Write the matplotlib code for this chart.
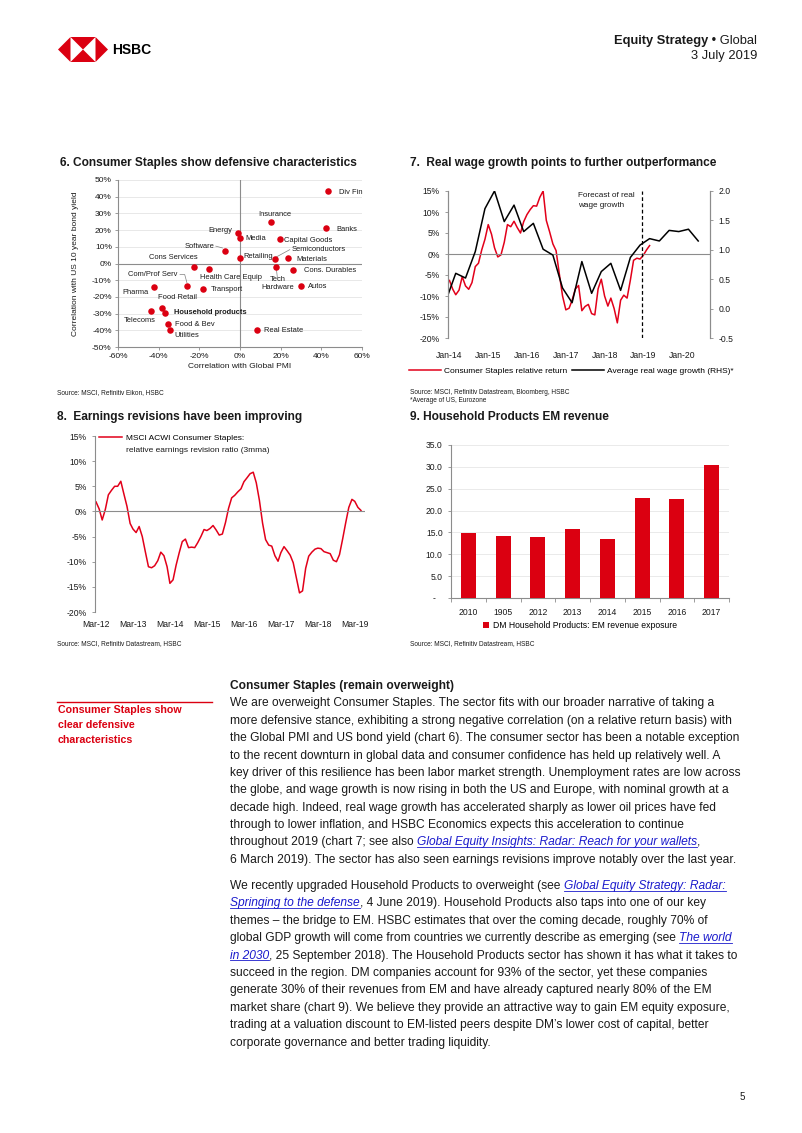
import numpy as np
import pandas as pd
import matplotlib
matplotlib.use('Agg')
import matplotlib.pyplot as plt
import matplotlib.dates as mdates
from matplotlib.patches import Polygon
from matplotlib.lines import Line2D

plt.rcParams['font.family'] = ['Liberation Sans', 'DejaVu Sans']

RED = '#DB0011'
LINE_RED = '#E2001A'
AXGREY = '#8c8c8c'
TXT = '#1a1a1a'
BLUE = '#1a1acc'

# ---- chart 6: correlation scatter ----
sectors = ['Div Fin', 'Insurance', 'Banks', 'Energy', 'Media', 'Capital Goods',
           'Software', 'Retailing', 'Semiconductors', 'Materials', 'Cons Services',
           'Health Care Equip', 'Tech Hardware', 'Cons. Durables', 'Com/Prof Serv',
           'Pharma', 'Transport', 'Autos', 'Food Retail', 'Telecoms',
           'Household products', 'Food & Bev', 'Utilities', 'Real Estate']
pmi_corr = [43.2, 15.0, 42.1, -1.2, 0.2, 19.6, -7.6, 0.0, 17.4, 23.5, -22.5,
            -15.3, 17.8, 26.3, -26.1, -42.1, -18.1, 30.1, -38.3, -43.7,
            -37.0, -35.5, -34.2, 8.4]
yield_corr = [43.4, 25.0, 21.0, 18.0, 15.4, 14.4, 7.2, 3.0, 2.4, 3.0, -1.8,
              -3.0, -2.0, -4.0, -13.6, -14.0, -15.0, -13.6, -26.6, -28.2,
              -29.6, -36.4, -39.6, -39.6]

# ---- chart 7: staples relative return vs real wage growth ----
staples_start = '2014-01-01'
staples_rel = [-6.3, -8.4, -9.7, -8.6, -5.4, -7.6, -8.4, -6.8, -3.0, -2.2,
               1.0, 3.5, 7.0, 4.7, 1.5, -0.7, -0.2, 2.8, 7.0, 6.5,
               7.8, 6.3, 5.0, 7.7, 9.4, 10.6, 11.5, 11.4, 13.5, 15.0,
               8.0, 5.3, 2.4, 0.8, -4.8, -10.0, -13.3, -12.9, -11.0, -8.3,
               -7.5, -13.5, -12.5, -12.0, -14.2, -14.5, -8.3, -6.0, -10.0, -12.4,
               -10.5, -13.0, -16.4, -11.0, -9.8, -10.5, -6.2, -1.5, -1.0, -1.2,
               -0.3, 1.0, 2.0]
wage_start = '2013-12-01'
wage_growth = [0.15, 0.60, 0.52, 0.97, 1.70, 2.00, 1.48, 1.76, 1.31, 1.45,
               1.01, 0.91, 0.35, 0.10, 0.80, 0.26, 0.63, 0.77, 0.31, 0.87,
               1.08, 1.19, 1.15, 1.33, 1.31, 1.35, 1.15]

# ---- chart 8: earnings revision ratio ----
rev_start = '2012-03-01'
rev_ratio = [1.9, 0.5, -1.7, 0.4, 3.3, 4.2, 5.0, 5.0, 6.0, 3.5,
             1.0, -2.4, -3.5, -4.2, -3.0, -5.0, -8.0, -11.0, -11.2, -10.8,
             -9.8, -8.1, -8.8, -11.0, -14.3, -13.6, -10.7, -8.2, -6.0, -5.5,
             -7.2, -7.1, -7.2, -6.2, -5.0, -3.6, -3.8, -3.4, -2.8, -3.7,
             -4.7, -4.5, -2.2, 0.6, 2.7, 3.2, 3.9, 4.5, 5.9, 6.7,
             7.5, 7.8, 5.7, 2.2, -2.3, -5.6, -6.7, -6.9, -8.8, -9.9,
             -8.2, -7.0, -7.8, -8.7, -10.2, -13.2, -16.2, -15.8, -11.3, -8.9,
             -8.1, -7.5, -7.3, -7.4, -8.0, -8.2, -8.4, -9.7, -10.0, -8.6,
             -5.5, -2.3, 0.8, 2.4, 2.0, 0.8, 0.2]

# ---- chart 9: EM revenue exposure ----
years = ['2010', '1905', '2012', '2013', '2014', '2015', '2016', '2017']
em_exposure = [14.8, 14.1, 13.9, 15.8, 13.5, 22.8, 22.6, 30.4]

staples_dates = pd.date_range(staples_start, periods=len(staples_rel), freq='MS')
wage_dates = pd.date_range(wage_start, periods=len(wage_growth), freq='3MS')
rev_dates = pd.date_range(rev_start, periods=len(rev_ratio), freq='MS')

W, H = 802.0, 1133.0
fig = plt.figure(figsize=(8.02, 11.33), dpi=100)
renderer = fig.canvas.get_renderer()


def px_axes(left, top, right, bottom):
    return fig.add_axes([left / W, 1 - bottom / H, (right - left) / W, (bottom - top) / H])


def ftext(x, y, s, **kw):
    kw.setdefault('color', TXT)
    return fig.text(x / W, 1 - y / H, s, **kw)


def style_ticks(ax, size=5.8):
    ax.tick_params(labelsize=size, colors=AXGREY, labelcolor=TXT, length=2.5, width=0.6)


# ---------------- header ----------------
logo = px_axes(58, 37, 108, 62)
logo.set_xlim(0, 2)
logo.set_ylim(0, 1)
logo.axis('off')
for pts in ([(0, .5), (.5, 1), (.5, 0)], [(2, .5), (1.5, 1), (1.5, 0)],
            [(.5, 1), (1.5, 1), (1, .5)], [(.5, 0), (1.5, 0), (1, .5)]):
    logo.add_patch(Polygon(pts, closed=True, color=RED, lw=0))
ftext(112, 50, 'HSBC', fontsize=10, fontweight='bold', va='center', color='black')

g = ftext(757, 41, ' \u2022 Global', fontsize=9.3, ha='right', va='center')
gw = g.get_window_extent(renderer).width
ftext(757 - gw, 41, 'Equity Strategy', fontsize=9.3, fontweight='bold', ha='right', va='center')
ftext(757, 56, '3 July 2019', fontsize=9.3, ha='right', va='center')

# ---------------- chart titles / sources ----------------
ftext(60, 163, '6. Consumer Staples show defensive characteristics', fontsize=8.6, fontweight='bold', va='center')
ftext(410, 163, '7.  Real wage growth points to further outperformance', fontsize=8.6, fontweight='bold', va='center')
ftext(57, 417, '8.  Earnings revisions have been improving', fontsize=8.6, fontweight='bold', va='center')
ftext(410, 417, '9. Household Products EM revenue', fontsize=8.6, fontweight='bold', va='center')

ftext(57, 393, 'Source: MSCI, Refinitiv Eikon, HSBC', fontsize=4.7, va='center')
ftext(410, 393, 'Source: MSCI, Refinitiv Datastream, Bloomberg, HSBC', fontsize=4.7, va='center')
ftext(410, 401, '*Average of US, Eurozone', fontsize=4.7, va='center')
ftext(57, 644, 'Source: MSCI, Refinitiv Datastream, HSBC', fontsize=4.7, va='center')
ftext(410, 644, 'Source: MSCI, Refinitiv Datastream, HSBC', fontsize=4.7, va='center')

# ---------------- chart 6 ----------------
ax6 = px_axes(118, 180, 362, 347)
ax6.scatter(pmi_corr, yield_corr, s=22, color=RED, linewidths=0, zorder=3)
ax6.set_xlim(-60, 60)
ax6.set_ylim(-50, 50)
ax6.set_xticks(range(-60, 61, 20))
ax6.set_yticks(range(-50, 51, 10))
ax6.xaxis.set_major_formatter(lambda v, p: f'{v:.0f}%')
ax6.yaxis.set_major_formatter(lambda v, p: f'{v:.0f}%')
ax6.grid(axis='y', color='#e4e4e4', lw=0.6)
ax6.axhline(0, color=AXGREY, lw=0.8)
ax6.axvline(0, color=AXGREY, lw=0.8)
for s in ['top', 'right']:
    ax6.spines[s].set_visible(False)
for s in ['left', 'bottom']:
    ax6.spines[s].set_color(AXGREY)
    ax6.spines[s].set_linewidth(0.8)
style_ticks(ax6, 6.0)
ax6.tick_params(pad=2)
ax6.set_xlabel('Correlation with Global PMI', fontsize=6.0, color=TXT, labelpad=2)
ax6.set_ylabel('Correlation with US 10 year bond yield', fontsize=6.0, color=TXT)
ax6.yaxis.set_label_coords(-0.16, 0.5)

# label placement (text position, alignment) for each sector
label_pos = {
    'Div Fin': (48.5, 42.4, 'left'), 'Insurance': (17.0, 29.6, 'center'),
    'Banks': (47.3, 20.6, 'left'), 'Energy': (-3.9, 20.0, 'right'),
    'Media': (2.5, 14.8, 'left'), 'Capital Goods': (21.5, 14.0, 'left'),
    'Software': (-12.7, 10.4, 'right'), 'Retailing': (1.6, 4.2, 'left'),
    'Semiconductors': (25.6, 8.6, 'left'), 'Materials': (27.6, 2.6, 'left'),
    'Cons Services': (-32.7, 3.8, 'center'), 'Health Care Equip': (-4.4, -8.2, 'center'),
    'Tech Hardware': (18.6, -12.0, 'center'), 'Cons. Durables': (31.7, -4.4, 'left'),
    'Com/Prof Serv': (-43.0, -6.6, 'center'), 'Pharma': (-51.6, -17.2, 'center'),
    'Transport': (-14.3, -15.6, 'left'), 'Autos': (33.4, -14.0, 'left'),
    'Food Retail': (-30.6, -20.6, 'center'), 'Telecoms': (-49.5, -34.0, 'center'),
    'Household products': (-32.7, -29.2, 'left'), 'Food & Bev': (-32.1, -36.8, 'left'),
    'Utilities': (-32.4, -43.4, 'left'), 'Real Estate': (12.0, -40.0, 'left'),
}
for name in sectors:
    tx, ty, ha = label_pos[name]
    txt = 'Tech\nHardware' if name == 'Tech Hardware' else name
    ax6.text(tx, ty, txt, fontsize=5.4, ha=ha, va='center', color=TXT,
             fontweight='bold' if name == 'Household products' else 'normal',
             linespacing=1.1)
# leader lines
for xs, ys in [([-29.5, -27.2, -26.1], [-6.6, -6.6, -11.5]),
               ([-11.9, -8.6], [10.4, 9.3]),
               ([18.0, 24.5], [4.0, 8.3]),
               ([17.9, 18.4], [-3.5, -8.6])]:
    ax6.plot(xs, ys, color='#7f7f7f', lw=0.5)

# ---------------- chart 7 ----------------
ax7 = px_axes(448, 191, 710, 338)
ax7r = ax7.twinx()
l1, = ax7.plot(staples_dates, staples_rel, color=LINE_RED, lw=1.1)
l2, = ax7r.plot(wage_dates, wage_growth, color='black', lw=1.1)
ax7.set_ylim(-20, 15)
ax7r.set_ylim(-0.5, 2.0)
ax7.set_xlim(pd.Timestamp('2013-12-18'), pd.Timestamp('2020-09-20'))
ax7.set_yticks(range(-20, 16, 5))
ax7.yaxis.set_major_formatter(lambda v, p: f'{v:.0f}%')
ax7r.set_yticks(np.arange(-0.5, 2.01, 0.5))
ax7r.yaxis.set_major_formatter(lambda v, p: f'{v:.1f}')
ax7.xaxis.set_major_locator(mdates.YearLocator(month=1))
ax7.xaxis.set_major_formatter(mdates.DateFormatter('%b-%y'))
ax7.axhline(0, color=AXGREY, lw=0.8)
ax7.axvline(pd.Timestamp('2018-12-15'), color='black', lw=0.9, ls=(0, (3, 2)))
for a in (ax7, ax7r):
    a.spines['top'].set_visible(False)
    a.spines['bottom'].set_visible(False)
    a.spines['left'].set_color(AXGREY)
    a.spines['right'].set_color(AXGREY)
    style_ticks(a, 6.2)
ax7.tick_params(axis='x', length=0, pad=9)
ax7.text(0.496, 0.99, 'Forecast of real\nwage growth', transform=ax7.transAxes,
         fontsize=5.9, va='top', ha='left', color=TXT, linespacing=1.6)
ax7.legend([l1, l2], ['Consumer Staples relative return', 'Average real wage growth (RHS)*'],
           loc='center', bbox_to_anchor=(0.47, -0.224), ncol=2, frameon=False,
           fontsize=6.0, handlelength=3.9, columnspacing=0.6, handletextpad=0.3)

# ---------------- chart 8 ----------------
ax8 = px_axes(95, 436, 365, 612)
ax8.plot(rev_dates, rev_ratio, color=LINE_RED, lw=1.1, label='MSCI ACWI Consumer Staples:')
ax8.set_ylim(-20, 15)
ax8.set_xlim(pd.Timestamp('2012-02-20'), pd.Timestamp('2019-06-10'))
ax8.set_yticks(range(-20, 16, 5))
ax8.yaxis.set_major_formatter(lambda v, p: f'{v:.0f}%')
ax8.xaxis.set_major_locator(mdates.YearLocator(month=3))
ax8.xaxis.set_major_formatter(mdates.DateFormatter('%b-%y'))
ax8.axhline(0, color=AXGREY, lw=0.8)
for s in ['top', 'right', 'bottom']:
    ax8.spines[s].set_visible(False)
ax8.spines['left'].set_color(AXGREY)
style_ticks(ax8, 6.2)
ax8.tick_params(axis='x', length=0, pad=6)
leg8 = ax8.legend(loc='upper left', bbox_to_anchor=(0.015, 1.01), frameon=False, fontsize=6.0,
                  handlelength=2.8, handletextpad=0.4, borderpad=0, borderaxespad=0)
fig.canvas.draw()
x_leg = leg8.get_texts()[0].get_window_extent(renderer).x0
ftext(x_leg, 451, 'relative earnings revision ratio (3mma)', fontsize=6.0, va='center')

# ---------------- chart 9 ----------------
ax9 = px_axes(451, 445, 729, 598)
xpos = np.arange(len(years))
ax9.bar(xpos, em_exposure, width=0.43, color=RED, zorder=3,
        label='DM Household Products: EM revenue exposure')
ax9.set_xlim(-0.5, len(years) - 0.5)
ax9.set_ylim(0, 35)
ax9.set_yticks(np.arange(0, 35.1, 5))
ax9.yaxis.set_major_formatter(lambda v, p: '-   ' if v == 0 else f'{v:.1f}')
ax9.set_xticks(xpos)
ax9.set_xticklabels(years)
ax9.set_xticks(np.arange(-0.5, len(years), 1), minor=True)
ax9.grid(axis='y', color='#e6e6e6', lw=0.6, zorder=0)
for s in ['top', 'right']:
    ax9.spines[s].set_visible(False)
for s in ['left', 'bottom']:
    ax9.spines[s].set_color(AXGREY)
style_ticks(ax9, 6.2)
ax9.tick_params(axis='x', which='major', length=0, pad=7)
ax9.tick_params(axis='x', which='minor', length=3, color=AXGREY, width=0.6)
ax9.legend(loc='center', bbox_to_anchor=(0.465, -0.179), frameon=False, fontsize=6.2,
           handlelength=0.7, handleheight=0.7, handletextpad=0.4)

# ---------------- sidebar ----------------
fig.add_artist(Line2D([57 / W, 212 / W], [1 - 702 / H] * 2, transform=fig.transFigure,
                      color=RED, lw=1.0))
for i, s in enumerate(['Consumer Staples show', 'clear defensive', 'characteristics']):
    ftext(58, 710 + 15 * i, s, fontsize=7.7, fontweight='bold', color=RED, va='center')

# ---------------- body text ----------------
BODY = 8.65


def run_width(s, **kw):
    t = fig.text(0, 0, s + '|', **kw)
    w1 = t.get_window_extent(renderer).width
    t.remove()
    t = fig.text(0, 0, '|', **kw)
    w2 = t.get_window_extent(renderer).width
    t.remove()
    return w1 - w2


def draw_line(x, y, runs):
    for s, kind in runs:
        kw = dict(fontsize=BODY)
        if kind == 'b':
            kw['fontweight'] = 'bold'
        if kind == 'l':
            kw['fontstyle'] = 'italic'
        w = run_width(s, **kw)
        ftext(x, y + 4, s, va='baseline', color=BLUE if kind == 'l' else TXT, **kw)
        if kind == 'l':
            fig.add_artist(Line2D([x / W, (x + w) / W], [1 - (y + 5.5) / H] * 2,
                                  transform=fig.transFigure, color=BLUE, lw=0.6))
        x += w


para1 = [
    [('We are overweight Consumer Staples. The sector fits with our broader narrative of taking a', 'n')],
    [('more defensive stance, exhibiting a strong negative correlation (on a relative return basis) with', 'n')],
    [('the Global PMI and US bond yield (chart 6). The consumer sector has been a notable exception', 'n')],
    [('to the recent downturn in global data and consumer confidence has held up relatively well. A', 'n')],
    [('key driver of this resilience has been labor market strength. Unemployment rates are low across', 'n')],
    [('the globe, and wage growth is now rising in both the US and Europe, with nominal growth at a', 'n')],
    [('decade high. Indeed, real wage growth has accelerated sharply as lower oil prices have fed', 'n')],
    [('through to lower inflation, and HSBC Economics expects this acceleration to continue', 'n')],
    [('throughout 2019 (chart 7; see also ', 'n'),
     ('Global Equity Insights: Radar: Reach for your wallets', 'l'), (',', 'n')],
    [('6 March 2019). The sector has also seen earnings revisions improve notably over the last year.', 'n')],
]
para2 = [
    [('We recently upgraded Household Products to overweight (see ', 'n'),
     ('Global Equity Strategy: Radar:', 'l')],
    [('Springing to the defense', 'l'),
     (', 4 June 2019). Household Products also taps into one of our key', 'n')],
    [('themes \u2013 the bridge to EM. HSBC estimates that over the coming decade, roughly 70% of', 'n')],
    [('global GDP growth will come from countries we currently describe as emerging (see ', 'n'),
     ('The world', 'l')],
    [('in 2030', 'l'),
     (', 25 September 2018). The Household Products sector has shown it has what it takes to', 'n')],
    [('succeed in the region. DM companies account for 93% of the sector, yet these companies', 'n')],
    [('generate 30% of their revenues from EM and have already captured nearly 80% of the EM', 'n')],
    [('market share (chart 9). We believe they provide an attractive way to gain EM equity exposure,', 'n')],
    [('trading at a valuation discount to EM-listed peers despite DM\u2019s lower cost of capital, better', 'n')],
    [('corporate governance and better trading liquidity.', 'n')],
]

draw_line(230, 685, [('Consumer Staples (remain overweight)', 'b')])
for i, runs in enumerate(para1):
    draw_line(230, 702.3 + 17.4 * i, runs)
for i, runs in enumerate(para2):
    draw_line(230, 885 + 17.4 * i, runs)

ftext(745, 1097, '5', fontsize=7, ha='right', va='center')

fig.savefig('out.png', dpi=100)
